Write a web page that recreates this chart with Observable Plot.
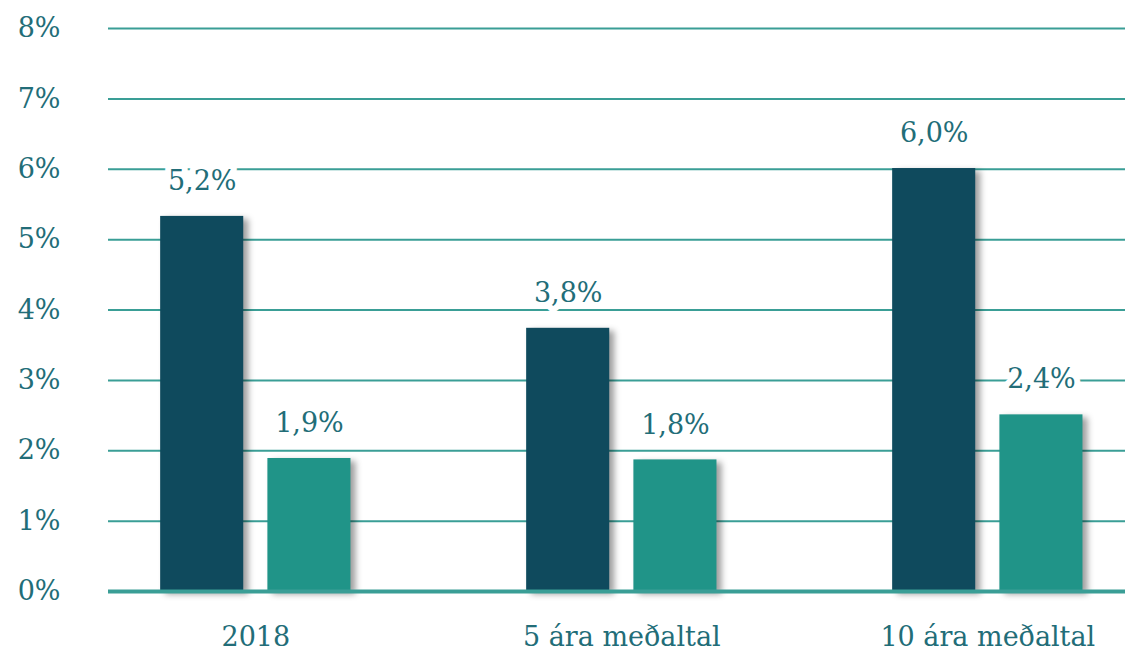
<!DOCTYPE html>
<html>
<head>
<meta charset="utf-8">
<script src="https://cdn.jsdelivr.net/npm/d3@7"></script>
<script src="https://cdn.jsdelivr.net/npm/@observablehq/plot@0.6"></script>
<style>
  html, body { margin: 0; padding: 0; background: #fff; }
  #chart g.bars rect { filter: drop-shadow(5px 3px 3px rgba(0,0,0,0.38)); }
</style>
</head>
<body>
<div id="chart"></div>
<script>
// ---- data ----
const categories = ["2018", "5 ára meðaltal", "10 ára meðaltal"];
const seriesDark = [5.33, 3.74, 6.01];     // bar heights (%)
const seriesTeal = [1.89, 1.87, 2.51];     // bar heights (%)
const labelsDark = ["5,2%", "3,8%", "6,0%"];
const labelsTeal = ["1,9%", "1,8%", "2,4%"];
const yTicks = [0, 1, 2, 3, 4, 5, 6, 7, 8];

// ---- styling ----
const darkColor = "#0f4a5d";
const tealColor = "#209488";
const gridColor = "#3a9e96";
const textColor = "#226d78";

// category index positions; each group has two bars side by side
const data = [];
categories.forEach((c, i) => {
  data.push({i, x1: i - 0.26, x2: i - 0.033, value: seriesDark[i], label: labelsDark[i], color: darkColor});
  data.push({i, x1: i + 0.033, x2: i + 0.26, value: seriesTeal[i], label: labelsTeal[i], color: tealColor});
});

const chart = Plot.plot({
  width: 1125,
  height: 656,
  marginLeft: 108,
  marginRight: 0,
  marginTop: 28,
  marginBottom: 65,
  style: {fontFamily: "Georgia, 'DejaVu Serif', serif", fontSize: "27px", color: textColor, background: "#fff"},
  x: {domain: [-0.4025, 2.3762], axis: null},
  y: {domain: [0, 8], axis: null},
  marks: [
    Plot.ruleY(yTicks.filter(d => d > 0), {stroke: gridColor, strokeWidth: 2}),
    Plot.rect(data, {x1: "x1", x2: "x2", y1: 0, y2: "value", fill: "color", className: "bars"}),
    Plot.ruleY([0], {stroke: gridColor, strokeWidth: 4}),
    Plot.axisY({ticks: yTicks, tickFormat: d => d + "%", tickSize: 0, tickPadding: 48, fontSize: 27, label: null}),
    Plot.axisX({ticks: [0, 1, 2], tickFormat: i => categories[i], tickSize: 0, tickPadding: 35, fontSize: 27, label: null}),
    Plot.text(data, {
      x: d => (d.x1 + d.x2) / 2, y: "value", text: "label",
      dy: -35, fill: textColor, stroke: "white", strokeWidth: 12, paintOrder: "stroke",
      fontSize: 27
    })
  ]
});
// ensure shadow applies to bars even if className is unsupported
d3.select(chart).selectAll("g[aria-label='rect']").classed("bars", true);
document.getElementById("chart").appendChild(chart);
</script>
</body>
</html>
